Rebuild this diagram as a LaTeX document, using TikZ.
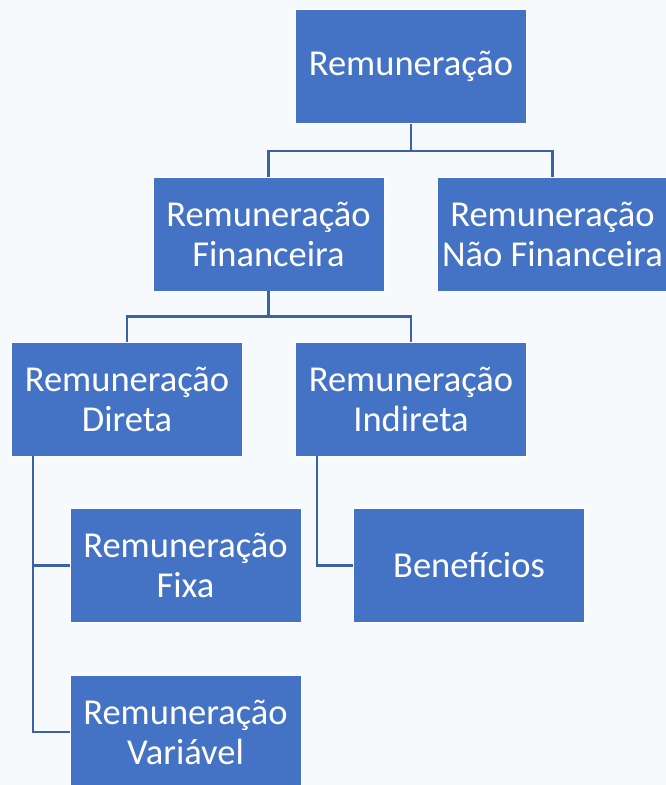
\documentclass[tikz,border=0pt]{standalone}
\usepackage{fontspec}
\setmainfont{Carlito}
\usepackage{tikz}
\usetikzlibrary{calc}

\definecolor{boxblue}{HTML}{4472C4}
\definecolor{linkblue}{HTML}{3A62A8}
\definecolor{paper}{HTML}{F7FAFC}

\tikzset{
  box/.style={fill=boxblue,draw=white,line width=0.8pt,text=white,
    minimum width=231pt,minimum height=114pt,inner sep=0pt,align=center,
    font=\fontsize{36.5}{40}\selectfont},
  link/.style={draw=linkblue,line width=2.6pt}
}

\begin{document}
\begin{tikzpicture}[x=1pt,y=-1pt]
            \fill[paper] (0,0) rectangle (666,785);
            \useasboundingbox (0,0) rectangle (666,785);

            \node[box] (rem) at (411,66.5) {Remuneração};
            \node[box] (fin) at (268.5,234) {Remuneração\\Financeira};
            \node[box] (nfin) at (552.5,234) {Remuneração\\Não Financeira};
            \node[box] (dir) at (127,399) {Remuneração\\Direta};
            \node[box] (ind) at (411,399) {Remuneração\\Indireta};
            \node[box] (fixa) at (185.5,565.5) {Remuneração\\Fixa};
            \node[box] (ben) at (469,565.5) {Benefícios};
            \node[box] (var) at (185.5,732) {Remuneração\\Variável};

            \draw[link] (rem.south) -- ++(0,27) -| (fin.north);
            \draw[link] (rem.south) -- ++(0,27) -| (nfin.north);
            \draw[link] (fin.south) -- ++(0,25) -| (dir.north);
            \draw[link] (fin.south) -- ++(0,25) -| (ind.north);

            \draw[link] ([xshift=22pt]dir.south west) |- (fixa.west);
            \draw[link] ([xshift=22pt]dir.south west) |- (var.west);
            \draw[link] ([xshift=22pt]ind.south west) |- (ben.west);
        \end{tikzpicture}
\end{document}
